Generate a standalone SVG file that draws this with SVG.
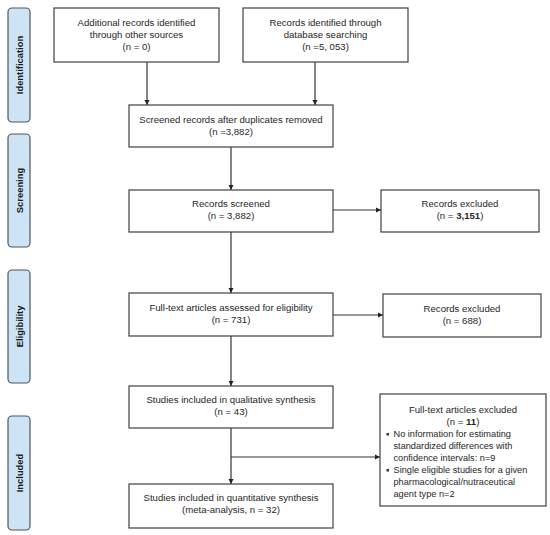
<svg xmlns="http://www.w3.org/2000/svg" width="550" height="535" viewBox="0 0 550 535">
<style>
.box{fill:#fff;stroke:#404040;stroke-width:1.2}
.side{fill:#cde4f7;stroke:#555;stroke-width:1.2}
text{font-family:"Liberation Sans",Arial,sans-serif;font-size:9.6px;fill:#262626}
.c{text-anchor:middle}
.s{font-size:9.2px}
.lab{font-weight:bold;font-size:9.4px;fill:#1a1a1a;text-anchor:middle}
.con{stroke:#333;stroke-width:1.2;fill:none}
</style>
<defs>
<marker id="ah" markerWidth="6" markerHeight="6" refX="5" refY="3" orient="auto" markerUnits="userSpaceOnUse">
<path d="M0,0.5 L5,3 L0,5.5 Z" fill="#222"/>
</marker>
</defs>
<g id="stage-identification"><rect class="side" x="8" y="8" width="22" height="114" rx="4"/><text class="lab" transform="translate(22.5,65) rotate(-90)">Identification</text></g>
<g id="stage-screening"><rect class="side" x="8" y="134" width="22" height="113" rx="4"/><text class="lab" transform="translate(22.5,190.5) rotate(-90)">Screening</text></g>
<g id="stage-eligibility"><rect class="side" x="8" y="270" width="22" height="113" rx="4"/><text class="lab" transform="translate(22.5,326.5) rotate(-90)">Eligibility</text></g>
<g id="stage-included"><rect class="side" x="8" y="416" width="22" height="114" rx="4"/><text class="lab" transform="translate(22.5,473) rotate(-90)">Included</text></g>

<g id="connectors">
<line class="con" x1="147" y1="62" x2="147" y2="105" marker-end="url(#ah)"/>
<line class="con" x1="315" y1="62" x2="315" y2="105" marker-end="url(#ah)"/>
<line class="con" x1="231" y1="147" x2="231" y2="190" marker-end="url(#ah)"/>
<line class="con" x1="333" y1="210" x2="381" y2="210" marker-end="url(#ah)"/>
<line class="con" x1="231" y1="232" x2="231" y2="293" marker-end="url(#ah)"/>
<line class="con" x1="333" y1="315" x2="383" y2="315" marker-end="url(#ah)"/>
<line class="con" x1="231" y1="336" x2="231" y2="386" marker-end="url(#ah)"/>
<line class="con" x1="231" y1="428" x2="231" y2="484" marker-end="url(#ah)"/>
<line class="con" x1="231" y1="457" x2="380" y2="457" marker-end="url(#ah)"/>
</g>

<g id="n-other"><rect class="box" x="54" y="8" width="165" height="54"/>
<text class="c" x="136.5" y="26">Additional records identified</text>
<text class="c" x="136.5" y="38">through other sources</text>
<text class="c" x="136.5" y="50">(n = 0)</text></g>

<g id="n-database"><rect class="box" x="243" y="8" width="165" height="54"/>
<text class="c" x="325.5" y="26">Records identified through</text>
<text class="c" x="325.5" y="38">database searching</text>
<text class="c" x="325.5" y="50">(n =5, 053)</text></g>

<g id="n-dedup"><rect class="box" x="129" y="105" width="204" height="42"/>
<text class="c" x="231" y="123">Screened records after duplicates removed</text>
<text class="c" x="231" y="135">(n =3,882)</text></g>

<g id="n-screened"><rect class="box" x="129" y="190" width="204" height="42"/>
<text class="c" x="231" y="207">Records screened</text>
<text class="c" x="231" y="219">(n = 3,882)</text></g>

<g id="n-excl1"><rect class="box" x="381" y="190" width="158" height="42"/>
<text class="c" x="460" y="207">Records excluded</text>
<text class="c" x="460" y="219">(n = <tspan font-weight="bold">3,151</tspan>)</text></g>

<g id="n-fulltext"><rect class="box" x="129" y="293" width="204" height="43"/>
<text class="c" x="231" y="311">Full-text articles assessed for eligibility</text>
<text class="c" x="231" y="323">(n = 731)</text></g>

<g id="n-excl2"><rect class="box" x="383" y="294" width="158" height="43"/>
<text class="c" x="462" y="312">Records excluded</text>
<text class="c" x="462" y="324">(n = 688)</text></g>

<g id="n-qual"><rect class="box" x="129" y="386" width="204" height="42"/>
<text class="c" x="231" y="403">Studies included in qualitative synthesis</text>
<text class="c" x="231" y="415">(n = 43)</text></g>

<g id="n-excl3"><rect class="box" x="380" y="394" width="166" height="112"/>
<text class="c" x="463" y="413">Full-text articles excluded</text>
<text class="c" x="463" y="425">(n = <tspan font-weight="bold">11</tspan>)</text>
<rect x="386.5" y="433" width="2.5" height="2.5" fill="#333"/>
<text class="s" x="393.5" y="437">No information for estimating</text>
<text class="s" x="393.5" y="449">standardized differences with</text>
<text class="s" x="393.5" y="461">confidence intervals: n=9</text>
<rect x="386.5" y="469" width="2.5" height="2.5" fill="#333"/>
<text class="s" x="393.5" y="473">Single eligible studies for a given</text>
<text class="s" x="393.5" y="485">pharmacological/nutraceutical</text>
<text class="s" x="393.5" y="497">agent type n=2</text></g>

<g id="n-quant"><rect class="box" x="129" y="484" width="204" height="44"/>
<text class="c" x="231" y="501">Studies included in quantitative synthesis</text>
<text class="c" x="231" y="513">(meta-analysis, n = 32)</text></g>
</svg>
